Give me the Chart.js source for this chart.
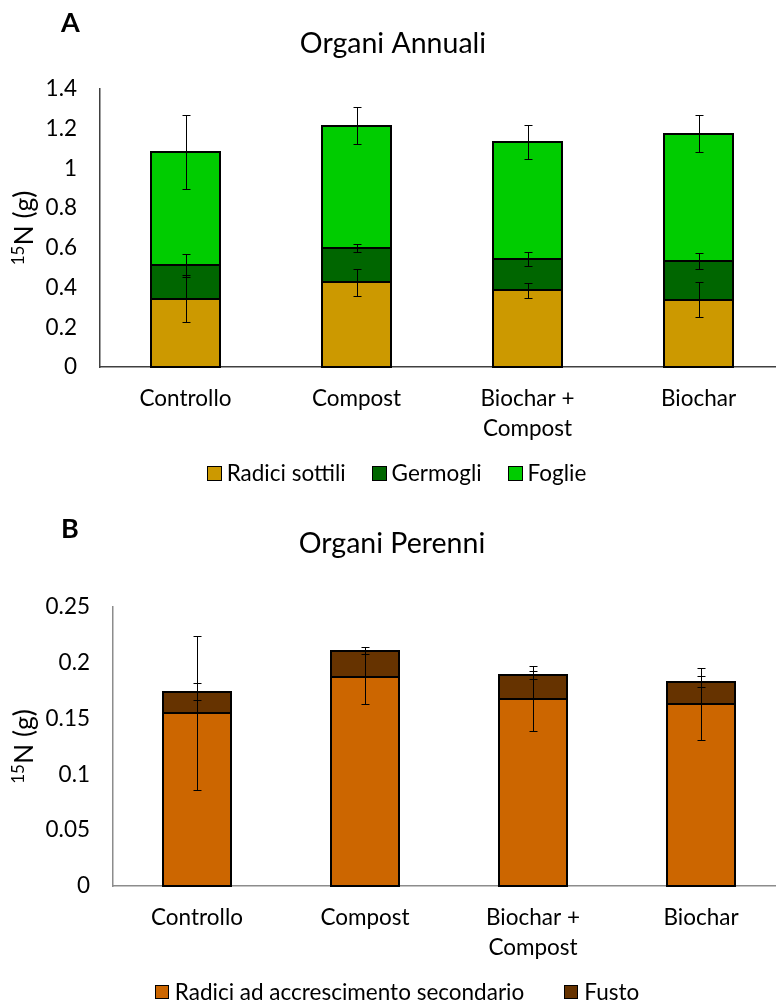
<!DOCTYPE html>
<html>
<head>
<meta charset="utf-8">
<title>15N negli organi</title>
<script src="https://cdn.jsdelivr.net/npm/chart.js@4.4.1/dist/chart.umd.min.js"></script>
<style>
  html, body { margin: 0; padding: 0; overflow: hidden; background: #fff; width: 776px; height: 1002px; }
  .panel { position: absolute; left: 0; }
  #panelA { top: 0; }
  #panelB { top: 500px; }
</style>
</head>
<body>
<div class="panel" id="panelA"><canvas id="chartA" width="800" height="500"></canvas></div>
<div class="panel" id="panelB"><canvas id="chartB" width="800" height="502"></canvas></div>
<script>
// ---- data ----
const categories = ['Controllo', 'Compost', ['Biochar +', 'Compost'], 'Biochar'];

// Panel A: organi annuali (g 15N)
const radiciSottili = [0.344, 0.426, 0.386, 0.339];
const germogli      = [0.168, 0.173, 0.159, 0.193];
const foglie        = [0.571, 0.616, 0.588, 0.643];
const errRadiciSottili = [0.117, 0.069, 0.038, 0.089];
const errGermogli      = [0.057, 0.019, 0.034, 0.040];
const errFoglie        = [0.186, 0.094, 0.088, 0.092];
const yTicksA  = [0, 0.2, 0.4, 0.6, 0.8, 1, 1.2, 1.4];
const yLabelsA = ['0', '0.2', '0.4', '0.6', '0.8', '1', '1.2', '1.4'];

// Panel B: organi perenni (g 15N)
const radiciSecondario = [0.155, 0.187, 0.168, 0.163];
const fusto            = [0.019, 0.024, 0.021, 0.020];
const errRadiciSecondario = [0.069, 0.024, 0.029, 0.032];
const errFusto            = [0.0075, 0.0033, 0.0036, 0.0049];
const yTicksB  = [0, 0.05, 0.1, 0.15, 0.2, 0.25];
const yLabelsB = ['0', '0.05', '0.1', '0.15', '0.2', '0.25'];

// ---- style ----
const FONT = 'Lato, "Open Sans", sans-serif';
const INK = '#000000';
const TEXT_SIZE = 22.5;

// Outline every bar segment with a line centred on its edges,
// so neighbouring segments share one dividing line
const barOutlines = {
  id: 'barOutlines',
  afterDatasetsDraw(chart, args, opts) {
    const ctx = chart.ctx;
    ctx.save();
    ctx.strokeStyle = opts.color;
    ctx.lineWidth = opts.lineWidth;
    chart.data.datasets.forEach((ds, i) => {
      chart.getDatasetMeta(i).data.forEach(el => {
        const p = el.getProps(['x', 'y', 'base', 'width'], true);
        const left = Math.round(p.x - p.width / 2);
        const right = Math.round(p.x + p.width / 2);
        const top = Math.round(Math.min(p.y, p.base));
        const bottom = Math.round(Math.max(p.y, p.base));
        ctx.strokeRect(left, top, right - left, bottom - top);
      });
    });
    ctx.restore();
  }
};

// Error bars centred on the cumulative top of each stacked segment
const errorBars = {
  id: 'errorBars',
  afterDatasetsDraw(chart, args, opts) {
    const ctx = chart.ctx;
    const yScale = chart.scales.y;
    const sums = [];
    ctx.save();
    ctx.strokeStyle = opts.color;
    ctx.lineWidth = opts.lineWidth;
    chart.data.datasets.forEach((ds, i) => {
      const meta = chart.getDatasetMeta(i);
      const errs = opts.errors[i];
      ds.data.forEach((v, j) => {
        sums[j] = (sums[j] || 0) + v;
        const x = Math.round(meta.data[j].x) + 0.5;
        const yTop = Math.round(yScale.getPixelForValue(sums[j] + errs[j])) + 0.5;
        const yBot = Math.round(yScale.getPixelForValue(sums[j] - errs[j])) + 0.5;
        const c = opts.capHalf;
        ctx.beginPath();
        ctx.moveTo(x, yTop); ctx.lineTo(x, yBot);
        ctx.moveTo(x - c, yTop); ctx.lineTo(x + c, yTop);
        ctx.moveTo(x - c, yBot); ctx.lineTo(x + c, yBot);
        ctx.stroke();
      });
    });
    ctx.restore();
  }
};

// Panel letter, chart title, y-axis title with superscript and legend row
const panelText = {
  id: 'panelText',
  afterDraw(chart, args, o) {
    const ctx = chart.ctx;
    const area = chart.chartArea;
    ctx.save();
    ctx.fillStyle = INK;
    ctx.textBaseline = 'alphabetic';

    // panel letter
    ctx.font = 'bold 27px ' + FONT;
    ctx.textAlign = 'left';
    ctx.fillText(o.letter, o.letterX, o.letterY);

    // title
    ctx.font = '28.5px ' + FONT;
    ctx.textAlign = 'center';
    ctx.fillText(o.title, o.titleX, o.titleY);

    // y-axis title: superscript mass number + "N (g)"
    const cy = (area.top + area.bottom) / 2;
    ctx.translate(o.yTitleX, cy);
    ctx.rotate(-Math.PI / 2);
    ctx.textAlign = 'left';
    ctx.font = '17px ' + FONT;
    const wSup = ctx.measureText(o.yTitleSup).width;
    ctx.font = '26.5px ' + FONT;
    const wMain = ctx.measureText(o.yTitleMain).width;
    const start = -(wSup + wMain) / 2;
    ctx.font = '17px ' + FONT;
    ctx.fillText(o.yTitleSup, start, -3);
    ctx.font = '26.5px ' + FONT;
    ctx.fillText(o.yTitleMain, start + wSup, 6);
    ctx.setTransform(1, 0, 0, 1, 0, 0);

    // legend row
    ctx.font = TEXT_SIZE + 'px ' + FONT;
    ctx.textBaseline = 'middle';
    ctx.textAlign = 'left';
    const items = chart.data.datasets.map(ds => ({ label: ds.label, color: ds.backgroundColor }));
    const widths = items.map(it => o.box + o.textGap + ctx.measureText(it.label).width);
    const total = widths.reduce((a, b) => a + b, 0) + o.itemGap * (items.length - 1);
    let x = o.legendCenterX - total / 2;
    items.forEach((it, k) => {
      const bx = Math.round(x) + 0.5, by = Math.round(o.legendY - o.box / 2) + 0.5;
      ctx.fillStyle = it.color;
      ctx.fillRect(bx, by, o.box, o.box);
      ctx.strokeStyle = INK;
      ctx.lineWidth = 1;
      ctx.strokeRect(bx, by, o.box, o.box);
      ctx.fillStyle = INK;
      ctx.fillText(it.label, x + o.box + o.textGap, o.legendY + 1);
      x += widths[k] + o.itemGap;
    });
    ctx.restore();
  }
};

function makeScales(ticks, labels, max, yWidth, axisColor) {
  return {
    x: {
      stacked: true,
      grid: { display: false, drawTicks: false },
      border: { display: true, color: axisColor, width: 1.5 },
      ticks: {
        color: INK, padding: 17, maxRotation: 0, autoSkip: false,
        font: { family: FONT, size: TEXT_SIZE, lineHeight: 30 / TEXT_SIZE }
      },
      afterFit(s) { s.height = 80; }
    },
    y: {
      stacked: true,
      min: 0, max: max,
      grid: { display: false, drawTicks: false },
      border: { display: true, color: axisColor, width: 1.5 },
      ticks: {
        color: INK, padding: 23,
        font: { family: FONT, size: TEXT_SIZE },
        callback(value, index) { return labels[index]; }
      },
      afterBuildTicks(s) { s.ticks = ticks.map(v => ({ value: v })); },
      afterFit(s) { s.width = yWidth; }
    }
  };
}

function barSet(label, data, color) {
  return {
    label, data,
    backgroundColor: color,
    borderWidth: 0,
    inflateAmount: 0,
    barPercentage: 0.4,
    categoryPercentage: 1.0
  };
}

const common = {
  responsive: false,
  animation: false,
  devicePixelRatio: 1,
  events: []
};

new Chart(document.getElementById('chartA'), {
  type: 'bar',
  data: {
    labels: categories,
    datasets: [
      barSet('Radici sottili', radiciSottili, '#CC9900'),
      barSet('Germogli', germogli, '#006600'),
      barSet('Foglie', foglie, '#00CC00')
    ]
  },
  options: {
    ...common,
    layout: { padding: { top: 89, bottom: 500 - 367 - 80, left: 0, right: 16 } },
    scales: makeScales(yTicksA, yLabelsA, 1.4, 100, '#404040'),
    plugins: {
      legend: { display: false },
      tooltip: { enabled: false },
      barOutlines: { color: '#000', lineWidth: 2 },
      errorBars: { errors: [errRadiciSottili, errGermogli, errFoglie], color: '#000', lineWidth: 1, capHalf: 4 },
      panelText: {
        letter: 'A', letterX: 61, letterY: 32,
        title: 'Organi Annuali', titleX: 393, titleY: 53,
        yTitleX: 27, yTitleSup: '15', yTitleMain: 'N (g)',
        legendCenterX: 396.5, legendY: 473, box: 14, textGap: 6, itemGap: 26
      }
    }
  },
  plugins: [barOutlines, errorBars, panelText]
});

new Chart(document.getElementById('chartB'), {
  type: 'bar',
  data: {
    labels: categories,
    datasets: [
      barSet('Radici ad accrescimento secondario', radiciSecondario, '#CC6600'),
      barSet('Fusto', fusto, '#663300')
    ]
  },
  options: {
    ...common,
    layout: { padding: { top: 107, bottom: 502 - 386 - 80, left: 0, right: 15 } },
    scales: makeScales(yTicksB, yLabelsB, 0.25, 113, '#8c8c8c'),
    plugins: {
      legend: { display: false },
      tooltip: { enabled: false },
      barOutlines: { color: '#000', lineWidth: 2 },
      errorBars: { errors: [errRadiciSecondario, errFusto], color: '#000', lineWidth: 1, capHalf: 4 },
      panelText: {
        letter: 'B', letterX: 61, letterY: 38,
        title: 'Organi Perenni', titleX: 392, titleY: 53,
        yTitleX: 27, yTitleSup: '15', yTitleMain: 'N (g)',
        legendCenterX: 397, legendY: 491.5, box: 13, textGap: 7, itemGap: 40
      }
    }
  },
  plugins: [barOutlines, errorBars, panelText]
});
</script>
</body>
</html>
